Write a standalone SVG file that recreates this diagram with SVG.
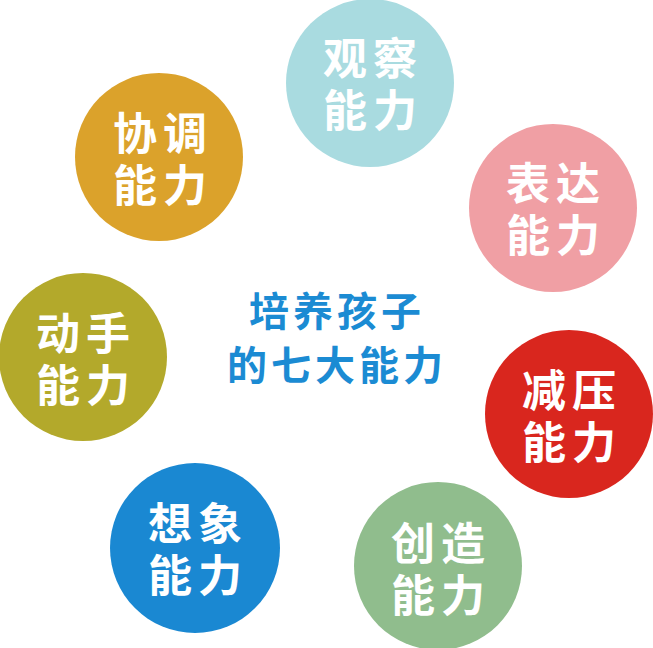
<svg xmlns="http://www.w3.org/2000/svg" width="653" height="648" viewBox="0 0 653 648">
<style>
.t{font-family:"Noto Sans CJK SC","Noto Sans",sans-serif;font-weight:700;font-size:44px;fill:#fff;text-anchor:middle;letter-spacing:6px}
.c{font-family:"Noto Sans CJK SC","Noto Sans",sans-serif;font-weight:700;font-size:40px;fill:#1b8bd3;text-anchor:middle;letter-spacing:4px}
</style>
<rect width="653" height="648" fill="#fff"/>
<g id="guancha"><circle cx="370" cy="83" r="84" fill="#a9dbe0"/><text class="t" x="373" y="75">观察</text><text class="t" x="373" y="127">能力</text></g>
<g id="xietiao"><circle cx="159" cy="157" r="84" fill="#dba22b"/><text class="t" x="163" y="150">协调</text><text class="t" x="163" y="202">能力</text></g>
<g id="biaoda"><circle cx="553" cy="208" r="84" fill="#f09fa4"/><text class="t" x="556" y="200">表达</text><text class="t" x="556" y="252">能力</text></g>
<g id="dongshou"><circle cx="83" cy="357" r="84" fill="#b3a92b"/><text class="t" x="86" y="350">动手</text><text class="t" x="86" y="402">能力</text></g>
<g id="jianya"><circle cx="569" cy="414" r="84" fill="#d9261e"/><text class="t" x="572" y="407">减压</text><text class="t" x="572" y="459">能力</text></g>
<g id="xiangxiang"><circle cx="195" cy="548" r="85" fill="#1a88d2"/><text class="t" x="198" y="540">想象</text><text class="t" x="198" y="592">能力</text></g>
<g id="chuangzao"><circle cx="438" cy="566" r="84" fill="#90bd8d"/><text class="t" x="441" y="560">创造</text><text class="t" x="441" y="612">能力</text></g>
<g id="center"><text class="c" x="337" y="326">培养孩子</text><text class="c" x="337" y="380">的七大能力</text></g>
</svg>
